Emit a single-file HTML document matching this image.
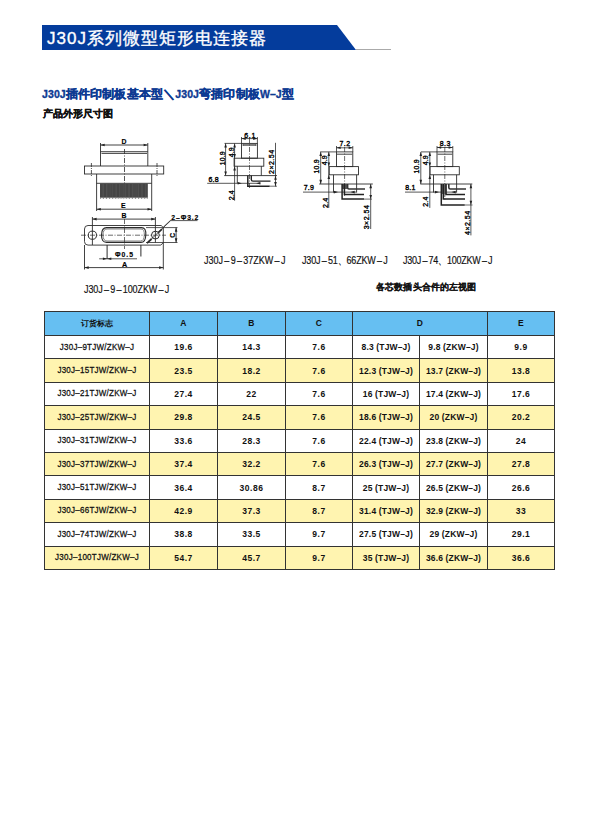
<!DOCTYPE html>
<html lang="zh">
<head>
<meta charset="utf-8">
<style>
html,body{margin:0;padding:0;background:#fff;}
body{width:613px;height:825px;position:relative;overflow:hidden;font-family:"Liberation Sans",sans-serif;}
.abs{position:absolute;white-space:nowrap;}
svg{position:absolute;left:0;top:0;}
svg text{font-family:"Liberation Sans",sans-serif;}
#t1{left:47px;top:29px;font-size:17px;font-weight:500;color:#fff;line-height:20px;letter-spacing:1px;-webkit-text-stroke:0.35px #fff;}
#t2{left:42px;top:87px;font-size:11.5px;font-weight:bold;color:#0d3a92;line-height:14px;letter-spacing:0.17px;-webkit-text-stroke:0.35px #0d3a92;}
#t2 .l{font-size:10.5px;letter-spacing:0.1px;}
#t3{left:43px;top:108px;font-size:9.5px;font-weight:bold;color:#111;line-height:12px;-webkit-text-stroke:0.3px #111;}
.lbl .d{margin:0 1.3px;}
.lbl{font-size:9px;font-weight:normal;color:#111;letter-spacing:0px;line-height:10px;transform:scaleY(1.22);transform-origin:0 0;-webkit-text-stroke:0.15px #111;}
#t4{left:376px;top:280.5px;letter-spacing:0.15px;font-size:9px;font-weight:bold;color:#111;line-height:12px;-webkit-text-stroke:0.1px #111;}
table{position:absolute;left:44px;top:311px;border-collapse:collapse;font-size:8.5px;font-weight:bold;letter-spacing:0.5px;}
td{border:1px solid #333;text-align:center;padding:0;height:22.4px;color:#111;}
td .s{display:inline-block;transform:scaleY(1.12);}
tr.h td{background:#66bff2;height:22px;padding-bottom:1px;font-weight:bold;}
td:first-child{font-size:8px;letter-spacing:0.25px;font-weight:normal;-webkit-text-stroke:0.25px #111;}
tr.h td:first-child{font-size:8px;font-weight:bold;letter-spacing:0;-webkit-text-stroke:0;}
tr:not(.h) td:nth-child(5),tr:not(.h) td:nth-child(6){letter-spacing:0.15px;}
tr.y td{background:#fff4b0;}
</style>
</head>
<body>
<svg width="613" height="825">
  <polygon points="42,25 337,25 356,50 42,50" fill="#043c9c"/>
  <line x1="356" y1="49.5" x2="391" y2="49.5" stroke="#aaa" stroke-width="1"/>
<line x1="100.5" y1="143" x2="100.5" y2="166" stroke="#2c2c2c" stroke-width="0.9" />
<line x1="147.8" y1="143" x2="147.8" y2="166" stroke="#2c2c2c" stroke-width="0.9" />
<line x1="100.5" y1="145" x2="147.8" y2="145" stroke="#2c2c2c" stroke-width="0.9" />
<polygon points="100.5,145 104.7,143.7 104.7,146.3" fill="#222"/>
<polygon points="147.8,145 143.60000000000002,143.7 143.60000000000002,146.3" fill="#222"/>
<text x="124" y="144.2" font-size="6.9" font-weight="bold" text-anchor="middle" letter-spacing="0" fill="#000" stroke="#000" stroke-width="0.15">D</text>
<line x1="100.5" y1="151.7" x2="147.8" y2="151.7" stroke="#2c2c2c" stroke-width="0.9" />
<line x1="101.5" y1="153.4" x2="147" y2="153.4" stroke="#2c2c2c" stroke-width="0.9" />
<rect x="84.5" y="166" width="79.2" height="8" rx="0" stroke="#2c2c2c" stroke-width="0.9" fill="none"/>
<line x1="91.4" y1="163" x2="91.4" y2="177" stroke="#2c2c2c" stroke-width="0.8" stroke-dasharray="4 1 1 1"/>
<line x1="157" y1="163" x2="157" y2="177" stroke="#2c2c2c" stroke-width="0.8" stroke-dasharray="4 1 1 1"/>
<line x1="96.6" y1="174" x2="96.6" y2="211" stroke="#2c2c2c" stroke-width="0.9" />
<line x1="151.7" y1="174" x2="151.7" y2="211" stroke="#2c2c2c" stroke-width="0.9" />
<line x1="96.6" y1="183.3" x2="151.7" y2="183.3" stroke="#2c2c2c" stroke-width="0.9" />
<rect x="100" y="183.5" width="47.8" height="14" fill="#3f3f3f"/>
<line x1="100.70" y1="184" x2="100.70" y2="197.5" stroke="#555" stroke-width="0.45"/>
<line x1="102.15" y1="184" x2="102.15" y2="197.5" stroke="#6a6a6a" stroke-width="0.45"/>
<line x1="103.60" y1="184" x2="103.60" y2="197.5" stroke="#6a6a6a" stroke-width="0.45"/>
<line x1="105.05" y1="184" x2="105.05" y2="197.5" stroke="#555" stroke-width="0.45"/>
<line x1="106.50" y1="184" x2="106.50" y2="197.5" stroke="#6a6a6a" stroke-width="0.45"/>
<line x1="107.95" y1="184" x2="107.95" y2="197.5" stroke="#6a6a6a" stroke-width="0.45"/>
<line x1="109.40" y1="184" x2="109.40" y2="197.5" stroke="#555" stroke-width="0.45"/>
<line x1="110.85" y1="184" x2="110.85" y2="197.5" stroke="#6a6a6a" stroke-width="0.45"/>
<line x1="112.30" y1="184" x2="112.30" y2="197.5" stroke="#6a6a6a" stroke-width="0.45"/>
<line x1="113.75" y1="184" x2="113.75" y2="197.5" stroke="#555" stroke-width="0.45"/>
<line x1="115.20" y1="184" x2="115.20" y2="197.5" stroke="#6a6a6a" stroke-width="0.45"/>
<line x1="116.65" y1="184" x2="116.65" y2="197.5" stroke="#6a6a6a" stroke-width="0.45"/>
<line x1="118.10" y1="184" x2="118.10" y2="197.5" stroke="#555" stroke-width="0.45"/>
<line x1="119.55" y1="184" x2="119.55" y2="197.5" stroke="#6a6a6a" stroke-width="0.45"/>
<line x1="121.00" y1="184" x2="121.00" y2="197.5" stroke="#6a6a6a" stroke-width="0.45"/>
<line x1="122.45" y1="184" x2="122.45" y2="197.5" stroke="#555" stroke-width="0.45"/>
<line x1="123.90" y1="184" x2="123.90" y2="197.5" stroke="#6a6a6a" stroke-width="0.45"/>
<line x1="125.35" y1="184" x2="125.35" y2="197.5" stroke="#6a6a6a" stroke-width="0.45"/>
<line x1="126.80" y1="184" x2="126.80" y2="197.5" stroke="#555" stroke-width="0.45"/>
<line x1="128.25" y1="184" x2="128.25" y2="197.5" stroke="#6a6a6a" stroke-width="0.45"/>
<line x1="129.70" y1="184" x2="129.70" y2="197.5" stroke="#6a6a6a" stroke-width="0.45"/>
<line x1="131.15" y1="184" x2="131.15" y2="197.5" stroke="#555" stroke-width="0.45"/>
<line x1="132.60" y1="184" x2="132.60" y2="197.5" stroke="#6a6a6a" stroke-width="0.45"/>
<line x1="134.05" y1="184" x2="134.05" y2="197.5" stroke="#6a6a6a" stroke-width="0.45"/>
<line x1="135.50" y1="184" x2="135.50" y2="197.5" stroke="#555" stroke-width="0.45"/>
<line x1="136.95" y1="184" x2="136.95" y2="197.5" stroke="#6a6a6a" stroke-width="0.45"/>
<line x1="138.40" y1="184" x2="138.40" y2="197.5" stroke="#6a6a6a" stroke-width="0.45"/>
<line x1="139.85" y1="184" x2="139.85" y2="197.5" stroke="#555" stroke-width="0.45"/>
<line x1="141.30" y1="184" x2="141.30" y2="197.5" stroke="#6a6a6a" stroke-width="0.45"/>
<line x1="142.75" y1="184" x2="142.75" y2="197.5" stroke="#6a6a6a" stroke-width="0.45"/>
<line x1="144.20" y1="184" x2="144.20" y2="197.5" stroke="#555" stroke-width="0.45"/>
<line x1="145.65" y1="184" x2="145.65" y2="197.5" stroke="#6a6a6a" stroke-width="0.45"/>
<line x1="147.10" y1="184" x2="147.10" y2="197.5" stroke="#6a6a6a" stroke-width="0.45"/>
<path d="M100,197.5 L100.72,199.3 L101.45,197.5 L102.17,198.6 L102.90,197.5 L103.62,199.3 L104.35,197.5 L105.07,198.6 L105.80,197.5 L106.52,199.3 L107.25,197.5 L107.97,198.6 L108.70,197.5 L109.42,199.3 L110.15,197.5 L110.87,198.6 L111.60,197.5 L112.32,199.3 L113.05,197.5 L113.77,198.6 L114.50,197.5 L115.22,199.3 L115.95,197.5 L116.67,198.6 L117.40,197.5 L118.12,199.3 L118.85,197.5 L119.57,198.6 L120.30,197.5 L121.02,199.3 L121.75,197.5 L122.47,198.6 L123.20,197.5 L123.92,199.3 L124.65,197.5 L125.37,198.6 L126.10,197.5 L126.82,199.3 L127.55,197.5 L128.27,198.6 L129.00,197.5 L129.72,199.3 L130.45,197.5 L131.17,198.6 L131.90,197.5 L132.62,199.3 L133.35,197.5 L134.07,198.6 L134.80,197.5 L135.52,199.3 L136.25,197.5 L136.97,198.6 L137.70,197.5 L138.42,199.3 L139.15,197.5 L139.87,198.6 L140.60,197.5 L141.32,199.3 L142.05,197.5 L142.77,198.6 L143.50,197.5 L144.22,199.3 L144.95,197.5 L145.67,198.6 L146.40,197.5 L147.12,199.3 L147.85,197.5 Z" fill="#555"/>
<line x1="124.5" y1="149" x2="124.5" y2="183.3" stroke="#2c2c2c" stroke-width="0.8" stroke-dasharray="5 1.5 1 1.5"/>
<line x1="96.6" y1="209.2" x2="151.7" y2="209.2" stroke="#2c2c2c" stroke-width="0.9" />
<polygon points="96.6,209.2 100.8,207.89999999999998 100.8,210.5" fill="#222"/>
<polygon points="151.7,209.2 147.5,207.89999999999998 147.5,210.5" fill="#222"/>
<text x="123.4" y="207.9" font-size="6.9" font-weight="bold" text-anchor="middle" letter-spacing="0" fill="#000" stroke="#000" stroke-width="0.15">E</text>
<line x1="92.4" y1="217" x2="92.4" y2="245" stroke="#2c2c2c" stroke-width="0.9" />
<line x1="155.4" y1="217" x2="155.4" y2="242.6" stroke="#2c2c2c" stroke-width="0.9" />
<line x1="92.4" y1="219.1" x2="155.4" y2="219.1" stroke="#2c2c2c" stroke-width="0.9" />
<polygon points="92.4,219.1 96.60000000000001,217.79999999999998 96.60000000000001,220.4" fill="#222"/>
<polygon points="155.4,219.1 151.20000000000002,217.79999999999998 151.20000000000002,220.4" fill="#222"/>
<text x="124" y="217.8" font-size="6.9" font-weight="bold" text-anchor="middle" letter-spacing="0" fill="#000" stroke="#000" stroke-width="0.15">B</text>
<path d="M88,225.5 H161.2 L163.3,227.6 V242.6 L160.8,245.1 H88 Q84.5,245.1 84.5,241.6 V229 Q84.5,225.5 88,225.5 Z" stroke="#2c2c2c" stroke-width="0.9" fill="none" />
<circle cx="92.4" cy="235.2" r="4.1" stroke="#2c2c2c" stroke-width="1.0" fill="none"/>
<circle cx="155.4" cy="235.1" r="3.9" stroke="#2c2c2c" stroke-width="1.0" fill="none"/>
<line x1="81" y1="235.2" x2="166" y2="235.2" stroke="#2c2c2c" stroke-width="0.7" stroke-dasharray="5 1.5 1 1.5"/>
<path d="M106.5,227.6 H141.6 Q146.3,227.6 145.8,235 Q145.6,242.4 141,242.4 H106.5 Q101.4,242.4 101.5,235 Q101.6,227.6 106.5,227.6 Z" stroke="#2c2c2c" stroke-width="1.1" fill="none" />
<path d="M107,229 H141 Q144.6,229 144.3,235 Q144.1,241 140.6,241 H107 Q103,241 103,235 Q103,229 107,229 Z" stroke="#2c2c2c" stroke-width="0.6" fill="none" />
<line x1="124.5" y1="219" x2="124.5" y2="249" stroke="#2c2c2c" stroke-width="0.7" stroke-dasharray="5 1.5 1 1.5"/>
<line x1="107.1" y1="245" x2="107.1" y2="259" stroke="#2c2c2c" stroke-width="1.0" />
<line x1="140.9" y1="245" x2="140.9" y2="256.5" stroke="#2c2c2c" stroke-width="1.0" />
<line x1="99.2" y1="258.8" x2="137" y2="258.8" stroke="#2c2c2c" stroke-width="0.8" />
<polygon points="107.1,258.8 102.89999999999999,257.5 102.89999999999999,260.1" fill="#222"/>
<polygon points="107.1,258.8 111.3,257.5 111.3,260.1" fill="#222"/>
<text x="115" y="257" font-size="6.8" font-weight="bold" text-anchor="start" letter-spacing="1.0" fill="#000" stroke="#000" stroke-width="0.15">Φ0.5</text>
<line x1="84.5" y1="245" x2="84.5" y2="269.5" stroke="#2c2c2c" stroke-width="0.9" />
<line x1="163.3" y1="242.6" x2="163.3" y2="269.5" stroke="#2c2c2c" stroke-width="0.9" />
<line x1="84.5" y1="267.6" x2="163.3" y2="267.6" stroke="#2c2c2c" stroke-width="0.9" />
<polygon points="84.5,267.6 88.7,266.3 88.7,268.90000000000003" fill="#222"/>
<polygon points="163.3,267.6 159.10000000000002,266.3 159.10000000000002,268.90000000000003" fill="#222"/>
<text x="124.6" y="266.8" font-size="7.2" font-weight="bold" text-anchor="middle" letter-spacing="0" fill="#000" stroke="#000" stroke-width="0.15">A</text>
<line x1="146" y1="227.6" x2="177.5" y2="227.6" stroke="#2c2c2c" stroke-width="0.8" />
<line x1="146" y1="242.5" x2="177.5" y2="242.5" stroke="#2c2c2c" stroke-width="0.8" />
<line x1="176.1" y1="227.6" x2="176.1" y2="242.5" stroke="#2c2c2c" stroke-width="0.9" />
<polygon points="176.1,227.6 174.79999999999998,231.79999999999998 177.4,231.79999999999998" fill="#222"/>
<polygon points="176.1,242.5 174.79999999999998,238.3 177.4,238.3" fill="#222"/>
<text x="174.8" y="235.2" font-size="6.8" font-weight="bold" text-anchor="middle" letter-spacing="0" fill="#000" stroke="#000" stroke-width="0.15" transform="rotate(-90 174.8 235.2)">C</text>
<path d="M147.2,243 L170.7,220.6 L197.5,220.6" stroke="#2c2c2c" stroke-width="0.8" fill="none" />
<path d="M147,243.2 L151.5,239" stroke="#2c2c2c" stroke-width="1.8" fill="none" />
<path d="M158.5,232.3 L162,229.2" stroke="#2c2c2c" stroke-width="1.8" fill="none" />
<path d="M163.2,227.2 L170.7,220.2" stroke="#2c2c2c" stroke-width="0.8" fill="none" />
<text x="171.3" y="219.8" font-size="6.8" font-weight="bold" text-anchor="start" letter-spacing="0.9" fill="#000" stroke="#000" stroke-width="0.15">2–Φ3.2</text>
<line x1="241.5" y1="137" x2="241.5" y2="143.4" stroke="#2c2c2c" stroke-width="0.8" />
<line x1="257.4" y1="137" x2="257.4" y2="143.4" stroke="#2c2c2c" stroke-width="0.8" />
<line x1="241.5" y1="138.6" x2="257.4" y2="138.6" stroke="#2c2c2c" stroke-width="0.8" />
<polygon points="241.5,138.6 245.7,137.29999999999998 245.7,139.9" fill="#222"/>
<polygon points="257.4,138.6 253.2,137.29999999999998 253.2,139.9" fill="#222"/>
<text x="250.2" y="137.6" font-size="7" font-weight="normal" text-anchor="middle" letter-spacing="0.7" fill="#000" stroke="#000" stroke-width="0.35">6.1</text>
<rect x="241.5" y="143.4" width="15.9" height="14.8" rx="0" stroke="#2c2c2c" stroke-width="0.9" fill="none"/>
<rect x="243" y="144.4" width="13" height="1.3" rx="0" stroke="#2c2c2c" stroke-width="0.6" fill="none"/>
<line x1="224.5" y1="143.4" x2="241.5" y2="143.4" stroke="#2c2c2c" stroke-width="0.8" />
<rect x="234.1" y="158.2" width="29.7" height="8" rx="0" stroke="#2c2c2c" stroke-width="0.9" fill="none"/>
<line x1="237.3" y1="166.2" x2="237.3" y2="183.3" stroke="#2c2c2c" stroke-width="0.9" />
<line x1="261.3" y1="166.2" x2="261.3" y2="175.6" stroke="#2c2c2c" stroke-width="0.9" />
<line x1="224.2" y1="175.6" x2="277" y2="175.6" stroke="#2c2c2c" stroke-width="0.9" />
<line x1="249.5" y1="138" x2="249.5" y2="188" stroke="#2c2c2c" stroke-width="0.7" stroke-dasharray="5 1.5 1 1.5"/>
<line x1="225.6" y1="143.4" x2="225.6" y2="175.6" stroke="#2c2c2c" stroke-width="0.8" />
<polygon points="225.6,143.4 224.29999999999998,147.6 226.9,147.6" fill="#222"/>
<polygon points="225.6,175.6 224.29999999999998,171.4 226.9,171.4" fill="#222"/>
<text x="224.6" y="158.2" font-size="7" font-weight="normal" text-anchor="middle" letter-spacing="0.15" fill="#000" stroke="#000" stroke-width="0.35" transform="rotate(-90 224.6 158.2)">10.9</text>
<line x1="234.6" y1="143.4" x2="234.6" y2="200.7" stroke="#2c2c2c" stroke-width="0.8" />
<polygon points="234.6,143.4 233.29999999999998,147.6 235.9,147.6" fill="#222"/>
<polygon points="234.6,158.2 233.29999999999998,154.0 235.9,154.0" fill="#222"/>
<polygon points="234.6,166.2 233.29999999999998,170.39999999999998 235.9,170.39999999999998" fill="#222"/>
<text x="234" y="152.2" font-size="7" font-weight="normal" text-anchor="middle" letter-spacing="0.15" fill="#000" stroke="#000" stroke-width="0.35" transform="rotate(-90 234 152.2)">4.9</text>
<text x="234.2" y="195.2" font-size="7" font-weight="normal" text-anchor="middle" letter-spacing="0.15" fill="#000" stroke="#000" stroke-width="0.35" transform="rotate(-90 234.2 195.2)">2.4</text>
<line x1="207.2" y1="183.3" x2="260.4" y2="183.3" stroke="#2c2c2c" stroke-width="0.8" />
<polygon points="241.8,183.3 237.60000000000002,182.0 237.60000000000002,184.60000000000002" fill="#222"/>
<polygon points="256.2,183.3 260.4,182.0 260.4,184.60000000000002" fill="#222"/>
<text x="213.7" y="182.1" font-size="7" font-weight="normal" text-anchor="middle" letter-spacing="0.3" fill="#000" stroke="#000" stroke-width="0.35">6.8</text>
<path d="M247.8,175.6 V186.2 H269.5" stroke="#222" stroke-width="1.5" fill="none" />
<path d="M251.3,175.6 V179.4 Q251.3,181.1 253,181.1 H270.5" stroke="#222" stroke-width="1.4" fill="none" />
<line x1="275.5" y1="142.8" x2="275.5" y2="186.5" stroke="#2c2c2c" stroke-width="0.8" />
<polygon points="275.5,175.6 274.2,179.79999999999998 276.8,179.79999999999998" fill="#222"/>
<polygon points="275.5,186.2 274.2,182.0 276.8,182.0" fill="#222"/>
<line x1="269" y1="186.2" x2="277" y2="186.2" stroke="#2c2c2c" stroke-width="0.7" />
<text x="273.8" y="161.7" font-size="7" font-weight="normal" text-anchor="middle" letter-spacing="0.5" fill="#000" stroke="#000" stroke-width="0.35" transform="rotate(-90 273.8 161.7)">2×2.54</text>
<line x1="336.5" y1="146" x2="336.5" y2="151.9" stroke="#2c2c2c" stroke-width="0.8" />
<line x1="352.8" y1="146" x2="352.8" y2="151.9" stroke="#2c2c2c" stroke-width="0.8" />
<line x1="336.5" y1="147.8" x2="352.8" y2="147.8" stroke="#2c2c2c" stroke-width="0.8" />
<polygon points="336.5,147.8 340.7,146.5 340.7,149.10000000000002" fill="#222"/>
<polygon points="352.8,147.8 348.6,146.5 348.6,149.10000000000002" fill="#222"/>
<text x="345" y="146.4" font-size="7" font-weight="normal" text-anchor="middle" letter-spacing="0.4" fill="#000" stroke="#000" stroke-width="0.35">7.2</text>
<rect x="336.5" y="151.9" width="16.3" height="14.7" rx="0" stroke="#2c2c2c" stroke-width="0.9" fill="none"/>
<line x1="337" y1="154.2" x2="352.3" y2="154.2" stroke="#2c2c2c" stroke-width="0.9" />
<line x1="320.2" y1="151.9" x2="336.5" y2="151.9" stroke="#2c2c2c" stroke-width="0.8" />
<rect x="329.2" y="166.6" width="29.3" height="8.2" rx="0" stroke="#2c2c2c" stroke-width="0.9" fill="none"/>
<line x1="333.5" y1="174.8" x2="333.5" y2="192.5" stroke="#2c2c2c" stroke-width="0.9" />
<line x1="356.6" y1="174.8" x2="356.6" y2="192.5" stroke="#2c2c2c" stroke-width="0.9" />
<line x1="319.2" y1="184" x2="372.8" y2="184" stroke="#2c2c2c" stroke-width="0.9" />
<line x1="344.6" y1="147" x2="344.6" y2="196" stroke="#2c2c2c" stroke-width="0.7" stroke-dasharray="5 1.5 1 1.5"/>
<line x1="320.7" y1="151.9" x2="320.7" y2="184" stroke="#2c2c2c" stroke-width="0.8" />
<polygon points="320.7,151.9 319.4,156.1 322.0,156.1" fill="#222"/>
<polygon points="320.7,184 319.4,179.8 322.0,179.8" fill="#222"/>
<text x="319" y="166.3" font-size="7" font-weight="normal" text-anchor="middle" letter-spacing="0.15" fill="#000" stroke="#000" stroke-width="0.35" transform="rotate(-90 319 166.3)">10.9</text>
<line x1="328.8" y1="151.9" x2="328.8" y2="207.9" stroke="#2c2c2c" stroke-width="0.8" />
<polygon points="328.8,151.9 327.5,156.1 330.1,156.1" fill="#222"/>
<polygon points="328.8,166.6 327.5,162.4 330.1,162.4" fill="#222"/>
<polygon points="328.8,174.8 327.5,179.0 330.1,179.0" fill="#222"/>
<text x="327.3" y="160.2" font-size="7" font-weight="normal" text-anchor="middle" letter-spacing="0.15" fill="#000" stroke="#000" stroke-width="0.35" transform="rotate(-90 327.3 160.2)">4.9</text>
<text x="327.6" y="202.8" font-size="7" font-weight="normal" text-anchor="middle" letter-spacing="0.15" fill="#000" stroke="#000" stroke-width="0.35" transform="rotate(-90 327.6 202.8)">2.4</text>
<line x1="303" y1="192.1" x2="356.6" y2="192.1" stroke="#2c2c2c" stroke-width="0.8" />
<polygon points="338,192.1 333.8,190.79999999999998 333.8,193.4" fill="#222"/>
<polygon points="350.5,192.1 354.7,190.79999999999998 354.7,193.4" fill="#222"/>
<text x="309" y="189.9" font-size="7" font-weight="normal" text-anchor="middle" letter-spacing="0.3" fill="#000" stroke="#000" stroke-width="0.35">7.9</text>
<rect x="342.2" y="184" width="5.4" height="5" fill="#555"/>
<path d="M342.1,184 V199.1 H364" stroke="#222" stroke-width="1.5" fill="none" />
<path d="M344.4,184 V194.4 H364" stroke="#222" stroke-width="1.5" fill="none" />
<path d="M347.6,184 V187.5 Q347.6,189 349,189 H365" stroke="#333" stroke-width="1.6" fill="none" />
<line x1="370.7" y1="184" x2="370.7" y2="229" stroke="#2c2c2c" stroke-width="0.8" />
<polygon points="370.7,184 369.4,188.2 372.0,188.2" fill="#222"/>
<polygon points="370.7,199.1 369.4,194.9 372.0,194.9" fill="#222"/>
<line x1="364" y1="199.1" x2="372" y2="199.1" stroke="#2c2c2c" stroke-width="0.7" />
<text x="369.3" y="217" font-size="7" font-weight="normal" text-anchor="middle" letter-spacing="0.5" fill="#000" stroke="#000" stroke-width="0.35" transform="rotate(-90 369.3 217)">3×2.54</text>
<line x1="437" y1="146" x2="437" y2="151.9" stroke="#2c2c2c" stroke-width="0.8" />
<line x1="452.8" y1="146" x2="452.8" y2="151.9" stroke="#2c2c2c" stroke-width="0.8" />
<line x1="437" y1="147.5" x2="452.8" y2="147.5" stroke="#2c2c2c" stroke-width="0.8" />
<polygon points="437,147.5 441.2,146.2 441.2,148.8" fill="#222"/>
<polygon points="452.8,147.5 448.6,146.2 448.6,148.8" fill="#222"/>
<text x="445.3" y="146.2" font-size="7" font-weight="normal" text-anchor="middle" letter-spacing="0.4" fill="#000" stroke="#000" stroke-width="0.35">8.3</text>
<rect x="437" y="151.9" width="15.8" height="14.7" rx="0" stroke="#2c2c2c" stroke-width="0.9" fill="none"/>
<line x1="437.5" y1="154.2" x2="452.3" y2="154.2" stroke="#2c2c2c" stroke-width="0.9" />
<line x1="421" y1="151.9" x2="437" y2="151.9" stroke="#2c2c2c" stroke-width="0.8" />
<rect x="430" y="166.6" width="29.3" height="8.2" rx="0" stroke="#2c2c2c" stroke-width="0.9" fill="none"/>
<line x1="433.5" y1="174.8" x2="433.5" y2="192.5" stroke="#2c2c2c" stroke-width="0.9" />
<line x1="456.6" y1="174.8" x2="456.6" y2="192.5" stroke="#2c2c2c" stroke-width="0.9" />
<line x1="420.3" y1="184" x2="472.3" y2="184" stroke="#2c2c2c" stroke-width="0.9" />
<line x1="444.8" y1="147" x2="444.8" y2="200" stroke="#2c2c2c" stroke-width="0.7" stroke-dasharray="5 1.5 1 1.5"/>
<line x1="420.8" y1="151.9" x2="420.8" y2="184" stroke="#2c2c2c" stroke-width="0.8" />
<polygon points="420.8,151.9 419.5,156.1 422.1,156.1" fill="#222"/>
<polygon points="420.8,184 419.5,179.8 422.1,179.8" fill="#222"/>
<text x="419.2" y="166.3" font-size="7" font-weight="normal" text-anchor="middle" letter-spacing="0.15" fill="#000" stroke="#000" stroke-width="0.35" transform="rotate(-90 419.2 166.3)">10.9</text>
<line x1="429.8" y1="151.9" x2="429.8" y2="207.9" stroke="#2c2c2c" stroke-width="0.8" />
<polygon points="429.8,151.9 428.5,156.1 431.1,156.1" fill="#222"/>
<polygon points="429.8,166.6 428.5,162.4 431.1,162.4" fill="#222"/>
<polygon points="429.8,174.8 428.5,179.0 431.1,179.0" fill="#222"/>
<text x="428.3" y="160.2" font-size="7" font-weight="normal" text-anchor="middle" letter-spacing="0.15" fill="#000" stroke="#000" stroke-width="0.35" transform="rotate(-90 428.3 160.2)">4.9</text>
<text x="428.4" y="201.6" font-size="7" font-weight="normal" text-anchor="middle" letter-spacing="0.15" fill="#000" stroke="#000" stroke-width="0.35" transform="rotate(-90 428.4 201.6)">2.4</text>
<line x1="405" y1="192.1" x2="456.6" y2="192.1" stroke="#2c2c2c" stroke-width="0.8" />
<polygon points="439,192.1 434.8,190.79999999999998 434.8,193.4" fill="#222"/>
<polygon points="451.5,192.1 455.7,190.79999999999998 455.7,193.4" fill="#222"/>
<text x="410.5" y="190" font-size="7" font-weight="normal" text-anchor="middle" letter-spacing="0.3" fill="#000" stroke="#000" stroke-width="0.35">8.1</text>
<rect x="441.5" y="184" width="5" height="10" fill="#666"/>
<path d="M441.3,184 V205 H464.8" stroke="#222" stroke-width="1.5" fill="none" />
<path d="M443.3,184 V199.1 H465" stroke="#222" stroke-width="1.5" fill="none" />
<path d="M446,184 V194.4 H465" stroke="#222" stroke-width="1.5" fill="none" />
<path d="M448.8,184 V187.5 Q448.8,189 450.3,189 H466" stroke="#333" stroke-width="1.6" fill="none" />
<line x1="470.9" y1="184" x2="470.9" y2="235.4" stroke="#2c2c2c" stroke-width="0.8" />
<polygon points="470.9,184 469.59999999999997,188.2 472.2,188.2" fill="#222"/>
<polygon points="470.9,205 469.59999999999997,200.8 472.2,200.8" fill="#222"/>
<line x1="465" y1="205" x2="472.5" y2="205" stroke="#2c2c2c" stroke-width="0.7" />
<text x="469.8" y="222.7" font-size="7" font-weight="normal" text-anchor="middle" letter-spacing="0.5" fill="#000" stroke="#000" stroke-width="0.35" transform="rotate(-90 469.8 222.7)">4×2.54</text>
</svg>
<div class="abs" id="t1">J30J系列微型矩形电连接器</div>
<div class="abs" id="t2"><span class="l">J30J</span>插件印制板基本型＼<span class="l">J30J</span>弯插印制板<span class="l">W–J</span>型</div>
<div class="abs" id="t3">产品外形尺寸图</div>
<div class="abs lbl" style="left:84px;top:283px;letter-spacing:-0.08px;">J30J<span class="d">–</span>9<span class="d">–</span>100ZKW<span class="d">–</span>J</div>
<div class="abs lbl" style="left:204px;top:254px;">J30J<span class="d">–</span>9<span class="d">–</span>37ZKW<span class="d">–</span>J</div>
<div class="abs lbl" style="left:302px;top:254px;letter-spacing:-0.15px;">J30J<span class="d">–</span>51、66ZKW<span class="d">–</span>J</div>
<div class="abs lbl" style="left:403px;top:254px;letter-spacing:-0.22px;">J30J<span class="d">–</span>74、100ZKW<span class="d">–</span>J</div>
<div class="abs" id="t4">各芯数插头合件的左视图</div>

<table>
<colgroup><col style="width:105px"><col style="width:68px"><col style="width:68px"><col style="width:67px"><col style="width:67px"><col style="width:68px"><col style="width:67px"></colgroup>
<tr class="h"><td>订货标志</td><td>A</td><td>B</td><td>C</td><td colspan="2">D</td><td>E</td></tr>
<tr><td><span class="s">J30J–9TJW/ZKW–J</span></td><td><span class="s">19.6</span></td><td><span class="s">14.3</span></td><td><span class="s">7.6</span></td><td><span class="s">8.3 (TJW–J)</span></td><td><span class="s">9.8 (ZKW–J)</span></td><td><span class="s">9.9</span></td></tr>
<tr class="y"><td><span class="s">J30J–15TJW/ZKW–J</span></td><td><span class="s">23.5</span></td><td><span class="s">18.2</span></td><td><span class="s">7.6</span></td><td><span class="s">12.3 (TJW–J)</span></td><td><span class="s">13.7 (ZKW–J)</span></td><td><span class="s">13.8</span></td></tr>
<tr><td><span class="s">J30J–21TJW/ZKW–J</span></td><td><span class="s">27.4</span></td><td><span class="s">22</span></td><td><span class="s">7.6</span></td><td><span class="s">16 (TJW–J)</span></td><td><span class="s">17.4 (ZKW–J)</span></td><td><span class="s">17.6</span></td></tr>
<tr class="y"><td><span class="s">J30J–25TJW/ZKW–J</span></td><td><span class="s">29.8</span></td><td><span class="s">24.5</span></td><td><span class="s">7.6</span></td><td><span class="s">18.6 (TJW–J)</span></td><td><span class="s">20 (ZKW–J)</span></td><td><span class="s">20.2</span></td></tr>
<tr><td><span class="s">J30J–31TJW/ZKW–J</span></td><td><span class="s">33.6</span></td><td><span class="s">28.3</span></td><td><span class="s">7.6</span></td><td><span class="s">22.4 (TJW–J)</span></td><td><span class="s">23.8 (ZKW–J)</span></td><td><span class="s">24</span></td></tr>
<tr class="y"><td><span class="s">J30J–37TJW/ZKW–J</span></td><td><span class="s">37.4</span></td><td><span class="s">32.2</span></td><td><span class="s">7.6</span></td><td><span class="s">26.3 (TJW–J)</span></td><td><span class="s">27.7 (ZKW–J)</span></td><td><span class="s">27.8</span></td></tr>
<tr><td><span class="s">J30J–51TJW/ZKW–J</span></td><td><span class="s">36.4</span></td><td><span class="s">30.86</span></td><td><span class="s">8.7</span></td><td><span class="s">25 (TJW–J)</span></td><td><span class="s">26.5 (ZKW–J)</span></td><td><span class="s">26.6</span></td></tr>
<tr class="y"><td><span class="s">J30J–66TJW/ZKW–J</span></td><td><span class="s">42.9</span></td><td><span class="s">37.3</span></td><td><span class="s">8.7</span></td><td><span class="s">31.4 (TJW–J)</span></td><td><span class="s">32.9 (ZKW–J)</span></td><td><span class="s">33</span></td></tr>
<tr><td><span class="s">J30J–74TJW/ZKW–J</span></td><td><span class="s">38.8</span></td><td><span class="s">33.5</span></td><td><span class="s">9.7</span></td><td><span class="s">27.5 (TJW–J)</span></td><td><span class="s">29 (ZKW–J)</span></td><td><span class="s">29.1</span></td></tr>
<tr class="y"><td><span class="s">J30J–100TJW/ZKW–J</span></td><td><span class="s">54.7</span></td><td><span class="s">45.7</span></td><td><span class="s">9.7</span></td><td><span class="s">35 (TJW–J)</span></td><td><span class="s">36.6 (ZKW–J)</span></td><td><span class="s">36.6</span></td></tr>
</table>
</body>
</html>
